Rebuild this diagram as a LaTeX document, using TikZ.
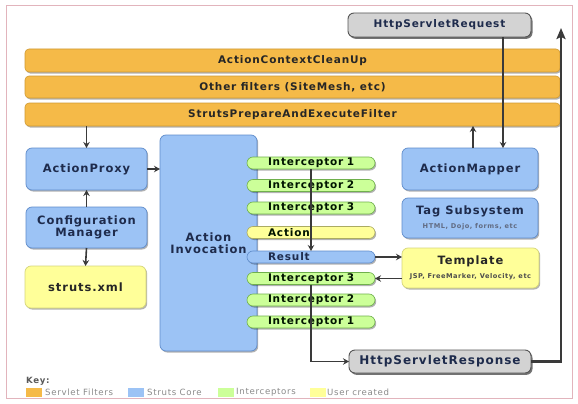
\documentclass[tikz,border=0pt]{standalone}
\usepackage{fontspec}
\setmainfont{DejaVu Sans}
\newfontfamily\lbl{DejaVu Sans}[LetterSpace=8]
\usetikzlibrary{arrows.meta,shadows,calc}
\newcommand\smalltxtfont{\lbl\bfseries\fontsize{6.6}{8}\selectfont}
\definecolor{frameC}{HTML}{E2B4BC}
\definecolor{sOrange}{HTML}{F5BA48}
\definecolor{sOrangeD}{HTML}{D09A34}
\definecolor{sBlue}{HTML}{9CC3F5}
\definecolor{sBlueD}{HTML}{5F8CCB}
\definecolor{sGreen}{HTML}{CCFF99}
\definecolor{sGreenD}{HTML}{6FB04C}
\definecolor{sYellow}{HTML}{FFFF99}
\definecolor{sYellowD}{HTML}{D6D67A}
\definecolor{sGray}{HTML}{D3D3D3}
\definecolor{sGrayD}{HTML}{555555}
\definecolor{navy}{HTML}{1E2B4C}
\definecolor{arrC}{HTML}{3A3A3A}
\definecolor{keyC}{HTML}{8A8A8A}
\begin{document}
\begin{tikzpicture}[x=1pt,y=-1pt,
  base/.style={inner sep=0pt, outer sep=0pt, align=center,
    font=\lbl\bfseries\fontsize{11.5}{12.5}\selectfont},
  shad/.style={drop shadow={shadow xshift=1.2pt, shadow yshift=-1.5pt, fill=black, opacity=.3}},
  barbox/.style={base, shad, fill=sOrange, draw=sOrangeD, line width=0.6pt, rounded corners=4pt,
    text=black!85, minimum width=535pt, font=\lbl\bfseries\fontsize{10.5}{12}\selectfont},
  bluebox/.style={base, shad, fill=sBlue, draw=sBlueD, line width=0.7pt, rounded corners=6pt, text=navy},
  yellowbox/.style={base, shad, fill=sYellow, draw=sYellowD, line width=0.7pt, rounded corners=6pt, text=black!85},
  graybox/.style={base, drop shadow={shadow xshift=1.5pt, shadow yshift=-1.8pt, fill=black, opacity=.55},
    fill=sGray, draw=sGrayD, line width=0.9pt, rounded corners=6pt, text=navy},
  pill/.style={base, shad, draw=sGreenD, fill=sGreen, line width=0.6pt, rounded corners=6pt,
    minimum width=128pt, minimum height=12pt, text width=86pt, align=left, text=black!80!green!40!black,
    font=\lbl\bfseries\fontsize{10.5}{12}\selectfont},
  arr/.style={draw=arrC, line width=1.6pt, -{Stealth[length=6pt,width=6.5pt,inset=2pt]}},
  bigarr/.style={draw=arrC, line width=2.8pt, -{Stealth[length=11pt,width=9pt,inset=2pt]}},
  swatch/.style={inner sep=0pt, minimum width=16pt, minimum height=9pt},
  keytxt/.style={inner sep=0pt, anchor=west, text=keyC, font=\lbl\fontsize{8.6}{10}\selectfont}
]
\useasboundingbox (0,0) rectangle (578,404);
\fill[white] (0,0) rectangle (578,404);
\draw[frameC, line width=0.8pt] (6,5) rectangle (572,398);

% servlet filters
\node[barbox, minimum height=23pt] (bar1) at (292.5,60.5) {ActionContextCleanUp};
\node[barbox, minimum height=22pt] (bar2) at (292.5,87) {Other filters (SiteMesh, etc)};
\node[barbox, minimum height=23pt] (bar3) at (292.5,114.5) {StrutsPrepareAndExecuteFilter};

% requests / responses
\node[graybox, minimum width=183pt, minimum height=24pt, font=\lbl\bfseries\fontsize{10.5}{12}\selectfont] (req) at (439.5,25) {HttpServletRequest};
\node[graybox, minimum width=182pt, minimum height=23pt, font=\lbl\bfseries\fontsize{12}{13}\selectfont] (resp) at (440,361.5) {HttpServletResponse};

% struts core
\node[bluebox, minimum width=121pt, minimum height=42pt] (proxy) at (86.5,169) {ActionProxy};
\node[bluebox, minimum width=121pt, minimum height=41pt] (config) at (86.5,227.5) {Configuration\\Manager};
\node[yellowbox, minimum width=121pt, minimum height=42pt] (struts) at (85.5,287) {struts.xml};
\node[bluebox, minimum width=97pt, minimum height=216pt] (inv) at (208.5,243) {Action\\Invocation};
\node[bluebox, minimum width=136pt, minimum height=42pt] (mapper) at (470,169) {ActionMapper};
\node[bluebox, minimum width=136pt, minimum height=40pt] (tag) at (470,218) {Tag Subsystem\\[1pt]{\smalltxtfont\color{navy!70}HTML, Dojo, forms, etc}};
\node[yellowbox, minimum width=137pt, minimum height=40pt] (tmpl) at (470.5,268) {Template\\[1pt]{\smalltxtfont\color{black!70}JSP, FreeMarker, Velocity, etc}};

% interceptors
\node[pill] (i1) at (311,163) {Interceptor~1};
\node[pill] (i2) at (311,185.5) {Interceptor~2};
\node[pill] (i3) at (311,208) {Interceptor~3};
\node[pill, fill=sYellow, draw=sYellowD!80!black] (act) at (311,232.5) {Action};
\node[pill, fill=sBlue, draw=sBlueD, text=navy] (res) at (311,257) {Result};
\node[pill] (j3) at (311,278.5) {Interceptor~3};
\node[pill] (j2) at (311,300) {Interceptor~2};
\node[pill] (j1) at (311,322) {Interceptor~1};

% connectors
\coordinate (mup) at ($(mapper.north)+(3,0)$);
\coordinate (mdown) at ($(mapper.north)+(33,0)$);
\coordinate (top) at (561,28);
\draw[arr] (bar3.south -| proxy.north) -- (proxy.north);
\draw[arr] (proxy.east) -- (proxy.east -| inv.west);
\draw[arr] (config.north) -- (proxy.south);
\draw[arr] (config.south) -- (struts.north);
\draw[arr] (mup) -- (mup |- bar3.south);
\draw[arr] (mdown |- req.south) -- (mdown);
\draw[arr] (i1.south) -- (res.north);
\draw[arr] (res.east) -- (res.east -| tmpl.west);
\draw[arr] (j3.east -| tmpl.west) -- (j3.east);
\draw[arr] (j3.south) |- (resp.west);
\draw[bigarr] (resp.east) -| (top);

% key
\node[inner sep=0pt, anchor=west, text=black!65, font=\lbl\bfseries\fontsize{8.6}{10}\selectfont] (key) at (26,381) {Key:};
\node[swatch, fill=sOrange, anchor=west] (k1) at (26,392.5) {};
\node[keytxt] (t1) at (45,392.5) {Servlet Filters};
\node[swatch, fill=sBlue, anchor=west] (k2) at (128,392.5) {};
\node[keytxt] (t2) at (147,392.5) {Struts Core};
\node[swatch, fill=sGreen, anchor=west] (k3) at (218,392.5) {};
\node[keytxt] (t3) at (236,392.5) {Interceptors};
\node[swatch, fill=sYellow, anchor=west] (k4) at (310,392.5) {};
\node[keytxt] (t4) at (327,392.5) {User created};
\end{tikzpicture}
\end{document}
